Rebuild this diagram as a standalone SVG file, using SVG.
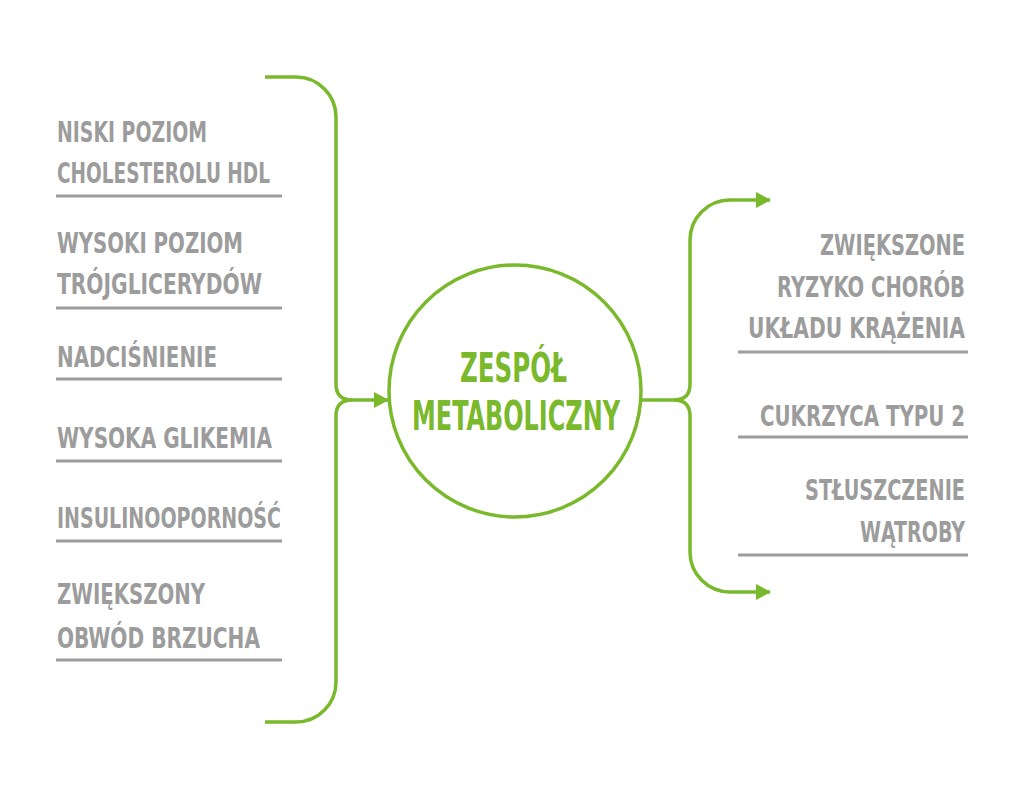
<svg xmlns="http://www.w3.org/2000/svg" width="1024" height="790" viewBox="0 0 1024 790">
<style>
.t{font-family:"Liberation Sans Narrow","DejaVu Sans Condensed","Liberation Sans",sans-serif;font-weight:bold;font-size:28px;fill:#9c9c9c}
.c{font-family:"Liberation Sans Narrow","DejaVu Sans Condensed","Liberation Sans",sans-serif;font-weight:bold;font-size:40px;fill:#7ab82c}
.u{stroke:#9c9c9c;stroke-width:3;fill:none}
.g{stroke:#7ab82c;stroke-width:3.5;fill:none}
</style>
<defs>
<marker id="ah" markerUnits="userSpaceOnUse" markerWidth="16" markerHeight="18" refX="14" refY="9" orient="auto">
<path d="M0,1 L15,9 L0,17 Z" fill="#7ab82c"/>
</marker>
</defs>
<rect width="1024" height="790" fill="#ffffff"/>
<g id="connectors">
<path class="g" d="M265,77 H296 A40,40 0 0 1 336,117 V384 Q336,400 352,400 H388" marker-end="url(#ah)"/>
<path class="g" d="M265,722 H296 A40,40 0 0 0 336,682 V416 Q336,400 352,400"/>
<path class="g" d="M641,400 H674 Q690,400 690,384 V240 A40,40 0 0 1 730,200 H770" marker-end="url(#ah)"/>
<path class="g" d="M674,400 Q690,400 690,416 V552 A40,40 0 0 0 730,592 H770" marker-end="url(#ah)"/>
</g>
<g id="center">
<circle cx="515" cy="391" r="126" fill="#ffffff" stroke="#7ab82c" stroke-width="3.5"/>
<text class="c" x="460" y="382" textLength="107" lengthAdjust="spacingAndGlyphs">ZESPÓŁ</text>
<text class="c" x="412" y="430" textLength="208" lengthAdjust="spacingAndGlyphs">METABOLICZNY</text>
</g>
<g id="n1">
<text class="t" x="57" y="142" textLength="150" lengthAdjust="spacingAndGlyphs">NISKI POZIOM</text>
<text class="t" x="57" y="183" textLength="213" lengthAdjust="spacingAndGlyphs">CHOLESTEROLU HDL</text>
<line class="u" x1="56" y1="196" x2="282" y2="196"/>
</g>
<g id="n2">
<text class="t" x="57" y="253" textLength="186" lengthAdjust="spacingAndGlyphs">WYSOKI POZIOM</text>
<text class="t" x="57" y="294" textLength="205" lengthAdjust="spacingAndGlyphs">TRÓJGLICERYDÓW</text>
<line class="u" x1="56" y1="308" x2="282" y2="308"/>
</g>
<g id="n3">
<text class="t" x="57" y="367" textLength="160" lengthAdjust="spacingAndGlyphs">NADCIŚNIENIE</text>
<line class="u" x1="56" y1="379" x2="282" y2="379"/>
</g>
<g id="n4">
<text class="t" x="57" y="448" textLength="215" lengthAdjust="spacingAndGlyphs">WYSOKA GLIKEMIA</text>
<line class="u" x1="56" y1="461" x2="282" y2="461"/>
</g>
<g id="n5">
<text class="t" x="57" y="528" textLength="224" lengthAdjust="spacingAndGlyphs">INSULINOOPORNOŚĆ</text>
<line class="u" x1="56" y1="541" x2="282" y2="541"/>
</g>
<g id="n6">
<text class="t" x="57" y="604" textLength="148" lengthAdjust="spacingAndGlyphs">ZWIĘKSZONY</text>
<text class="t" x="57" y="648" textLength="203" lengthAdjust="spacingAndGlyphs">OBWÓD BRZUCHA</text>
<line class="u" x1="56" y1="660" x2="282" y2="660"/>
</g>
<g id="r1">
<text class="t" x="820" y="255" textLength="145" lengthAdjust="spacingAndGlyphs">ZWIĘKSZONE</text>
<text class="t" x="777" y="297" textLength="188" lengthAdjust="spacingAndGlyphs">RYZYKO CHORÓB</text>
<text class="t" x="748" y="338" textLength="217" lengthAdjust="spacingAndGlyphs">UKŁADU KRĄŻENIA</text>
<line class="u" x1="738" y1="352" x2="968" y2="352"/>
</g>
<g id="r2">
<text class="t" x="760" y="426" textLength="205" lengthAdjust="spacingAndGlyphs">CUKRZYCA TYPU 2</text>
<line class="u" x1="738" y1="437" x2="968" y2="437"/>
</g>
<g id="r3">
<text class="t" x="805" y="500" textLength="160" lengthAdjust="spacingAndGlyphs">STŁUSZCZENIE</text>
<text class="t" x="860" y="542" textLength="105" lengthAdjust="spacingAndGlyphs">WĄTROBY</text>
<line class="u" x1="738" y1="555" x2="968" y2="555"/>
</g>
</svg>
